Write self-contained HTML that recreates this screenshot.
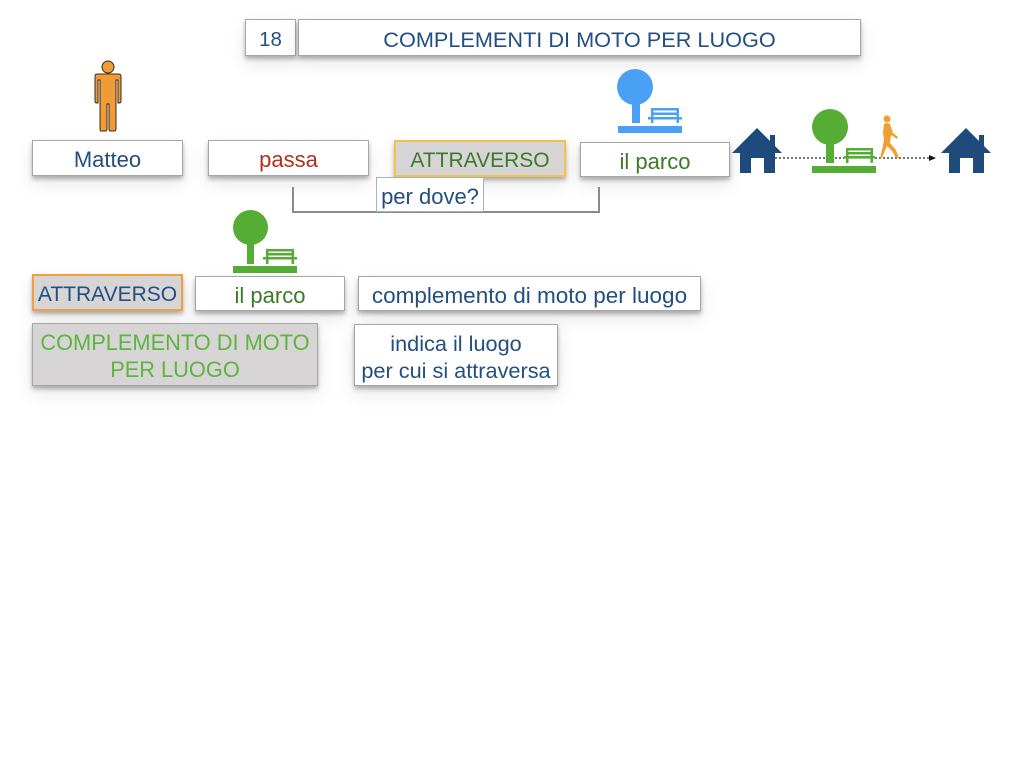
<!DOCTYPE html>
<html><head><meta charset="utf-8">
<style>
html,body{margin:0;padding:0;background:#fff;}
body{width:1024px;height:768px;position:relative;overflow:hidden;font-family:"Liberation Sans",Arial,sans-serif;}
.b{position:absolute;box-sizing:border-box;background:#fff;border:1px solid #a6a6a6;display:flex;align-items:center;justify-content:center;text-align:center;font-size:21px;color:#234f80;box-shadow:0 3px 4px rgba(0,0,0,0.28),0 8px 18px rgba(0,0,0,0.10);white-space:nowrap;line-height:27px;padding-top:3px;}
.g{background:#d6d4d5;}
svg{position:absolute;left:0;top:0;}
</style></head><body>

<div class="b" style="left:245px;top:19px;width:51px;height:37px;font-size:20.5px;">18</div>
<div class="b" style="left:298px;top:19px;width:563px;height:37px;font-size:21.7px;">COMPLEMENTI DI MOTO PER LUOGO</div>

<div class="b" style="left:32px;top:140px;width:151px;height:36px;font-size:22px;">Matteo</div>
<div class="b" style="left:208px;top:140px;width:161px;height:36px;font-size:22px;color:#b0301f;">passa</div>
<div class="b g" style="left:394px;top:140px;width:172px;height:37px;font-size:21px;color:#3b7a26;border:2px solid #f2c24a;">ATTRAVERSO</div>
<div class="b" style="left:580px;top:142px;width:150px;height:35px;font-size:22px;color:#3b7a26;">il parco</div>

<svg width="1024" height="768" viewBox="0 0 1024 768">
  <!-- bracket -->
  <polyline points="293,187 293,212 599,212 599,187" fill="none" stroke="#8a8a8a" stroke-width="2"/>
  <!-- person -->
  <g fill="#f19a38" stroke="#3a2a10" stroke-width="1">
    <circle cx="108" cy="67" r="6"/>
    <path d="M97,74 H119 Q121,74 121,77 V101 Q121,103 119,103 H118 V80 H116 V129 Q116,131 114,131 H110 Q109,131 109,129 V104 H107 V129 Q107,131 105,131 H101 Q100,131 100,129 V80 H98 V103 H97 Q95,103 95,101 V77 Q95,74 97,74 Z"/>
  </g>
  <!-- blue tree -->
  <g fill="#4aa0f5">
    <circle cx="635" cy="87" r="18"/>
    <rect x="632" y="100" width="8" height="23"/>
    <rect x="618" y="126" width="64" height="7"/>
    <rect x="651" y="108" width="28" height="2.5"/>
    <rect x="651" y="112.5" width="28" height="2.5"/>
    <rect x="648" y="117" width="34" height="2.5"/>
    <rect x="651" y="108" width="2.5" height="15"/>
    <rect x="676.5" y="108" width="2.5" height="15"/>
  </g>
  <!-- houses -->
  <g fill="#1f4b7c">
    <path d="M732,153 L757,128 L782,153 Z"/>
    <rect x="770" y="135" width="5" height="14"/>
    <path d="M740,150 H775 V173 H764 V158 H751 V173 H740 Z"/>
    <path d="M941,153 L966,128 L991,153 Z"/>
    <rect x="979" y="135" width="5" height="14"/>
    <path d="M949,150 H984 V173 H973 V158 H960 V173 H949 Z"/>
  </g>
  <!-- dotted line -->
  <line x1="775" y1="158" x2="930" y2="158" stroke="#222" stroke-width="1.2" stroke-dasharray="2,2"/>
  <path d="M929,155 L936,158 L929,161 Z" fill="#111"/>
  <!-- green tree 2 -->
  <g fill="#55ad35">
    <circle cx="830" cy="127" r="18"/>
    <rect x="826" y="140" width="8" height="23"/>
    <rect x="812" y="166" width="64" height="7"/>
    <rect x="846" y="148" width="27" height="2.5"/>
    <rect x="846" y="152" width="27" height="2.5"/>
    <rect x="844" y="156" width="31" height="2.5"/>
    <rect x="846" y="148" width="2.5" height="15"/>
    <rect x="870.5" y="148" width="2.5" height="15"/>
  </g>
  <!-- walker -->
  <g fill="#f0a030">
    <circle cx="887" cy="119" r="3.5"/>
    <path d="M884,124 Q887,122 890,124 L893,133 L898,137 L897,139 L891,135 L890,143 L896,150 L899,158 L896,158 L892,151 L887,146 L884,153 L882,158 L880,158 L882,150 L884,140 L883,133 Z"/>
  </g>
  <!-- green tree row 2 -->
  <g fill="#55ad35">
    <circle cx="250.5" cy="227.5" r="17.5"/>
    <rect x="247" y="238" width="7" height="26"/>
    <rect x="233" y="266" width="64" height="7"/>
    <rect x="266" y="249" width="28" height="2.5"/>
    <rect x="266" y="253" width="28" height="2.5"/>
    <rect x="263" y="257" width="34" height="2.5"/>
    <rect x="266" y="249" width="2.5" height="15"/>
    <rect x="291.5" y="249" width="2.5" height="15"/>
  </g>
</svg>

<div class="b" style="left:376px;top:177px;width:108px;height:35px;font-size:22px;border-color:#9cb4cc;box-shadow:none;">per dove?</div>

<div class="b g" style="left:32px;top:274px;width:151px;height:37px;font-size:21px;color:#234f80;border:2px solid #f0a040;">ATTRAVERSO</div>
<div class="b" style="left:195px;top:276px;width:150px;height:35px;font-size:22px;color:#3b7a26;">il parco</div>
<div class="b" style="left:358px;top:276px;width:343px;height:35px;font-size:22.5px;">complemento di moto per luogo</div>

<div class="b g" style="left:32px;top:323px;width:286px;height:63px;font-size:21.8px;color:#5db43f;">COMPLEMENTO DI MOTO<br>PER LUOGO</div>
<div class="b" style="left:354px;top:324px;width:204px;height:62px;font-size:21.7px;">indica il luogo<br>per cui si attraversa</div>

</body></html>
